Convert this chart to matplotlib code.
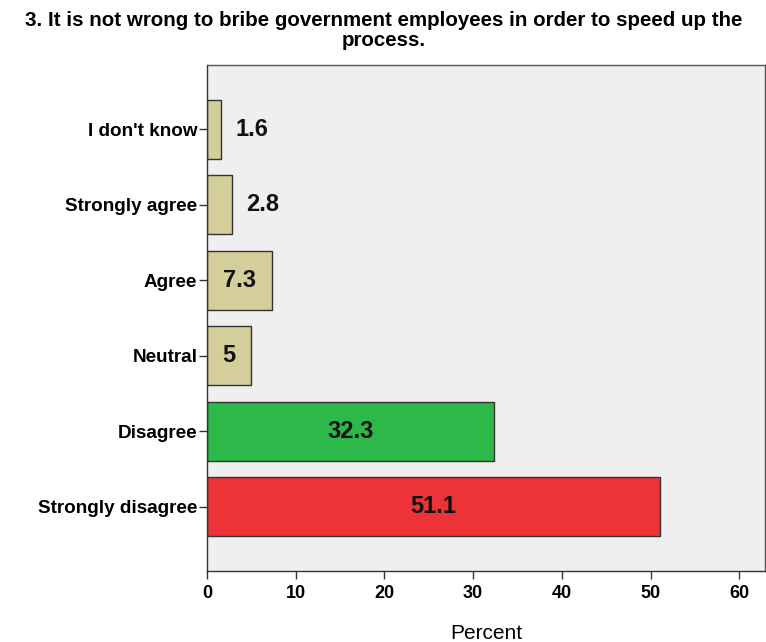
import matplotlib
matplotlib.use("Agg")
import matplotlib.pyplot as plt

categories = ["Strongly disagree", "Disagree", "Neutral", "Agree", "Strongly agree", "I don't know"]
values = [51.1, 32.3, 5, 7.3, 2.8, 1.6]
value_labels = ["51.1", "32.3", "5", "7.3", "2.8", "1.6"]
colors = ["#ee3338", "#2db84a", "#d4cf9a", "#d4cf9a", "#d4cf9a", "#d4cf9a"]
title = "3. It is not wrong to bribe government employees in order to speed up the\nprocess."
xticks = [0, 10, 20, 30, 40, 50, 60]

plt.rcParams['font.family'] = ['Liberation Sans', 'DejaVu Sans']

fig = plt.figure(figsize=(7.66, 6.42), dpi=100)
ax = fig.add_axes([207/766, 1 - 571/642, (765-207)/766, (571-65)/642])
ax.set_facecolor("#efefef")

ypos = list(range(len(categories)))
ax.barh(ypos, values, height=0.78, color=colors, edgecolor="#333333", linewidth=1.0, zorder=2)

for y, v, lab in zip(ypos, values, value_labels):
    if v < 4:
        ax.text(v + 1.6, y, lab, ha="left", va="center", fontsize=17, fontweight="bold", color="#111111")
    else:
        ax.text(v / 2, y, lab, ha="center", va="center", fontsize=17, fontweight="bold", color="#111111")

ax.set_xlim(0, 62.9)
ax.set_ylim(-0.85, 5.85)
ax.set_yticks(ypos)
ax.set_yticklabels(categories, fontsize=13.6, fontweight="bold")
ax.set_xticks(xticks)
ax.set_xticklabels([str(t) for t in xticks], fontsize=13, fontweight="bold")
ax.set_xlabel("Percent", fontsize=15, labelpad=16)
ax.tick_params(axis="both", direction="out", length=6, width=1, color="#333333")
ax.tick_params(axis="x", pad=4)
ax.tick_params(axis="y", pad=1)
for s in ax.spines.values():
    s.set_color("#555555")
    s.set_linewidth(1.0)
ax.spines["left"].set_color("#333333")
ax.spines["bottom"].set_color("#333333")

fig.text(384/766, 1 - 11/642, title, ha="center", va="top", fontsize=14.8, fontweight="bold", linespacing=1.1)

fig.savefig("out.png", dpi=100)
